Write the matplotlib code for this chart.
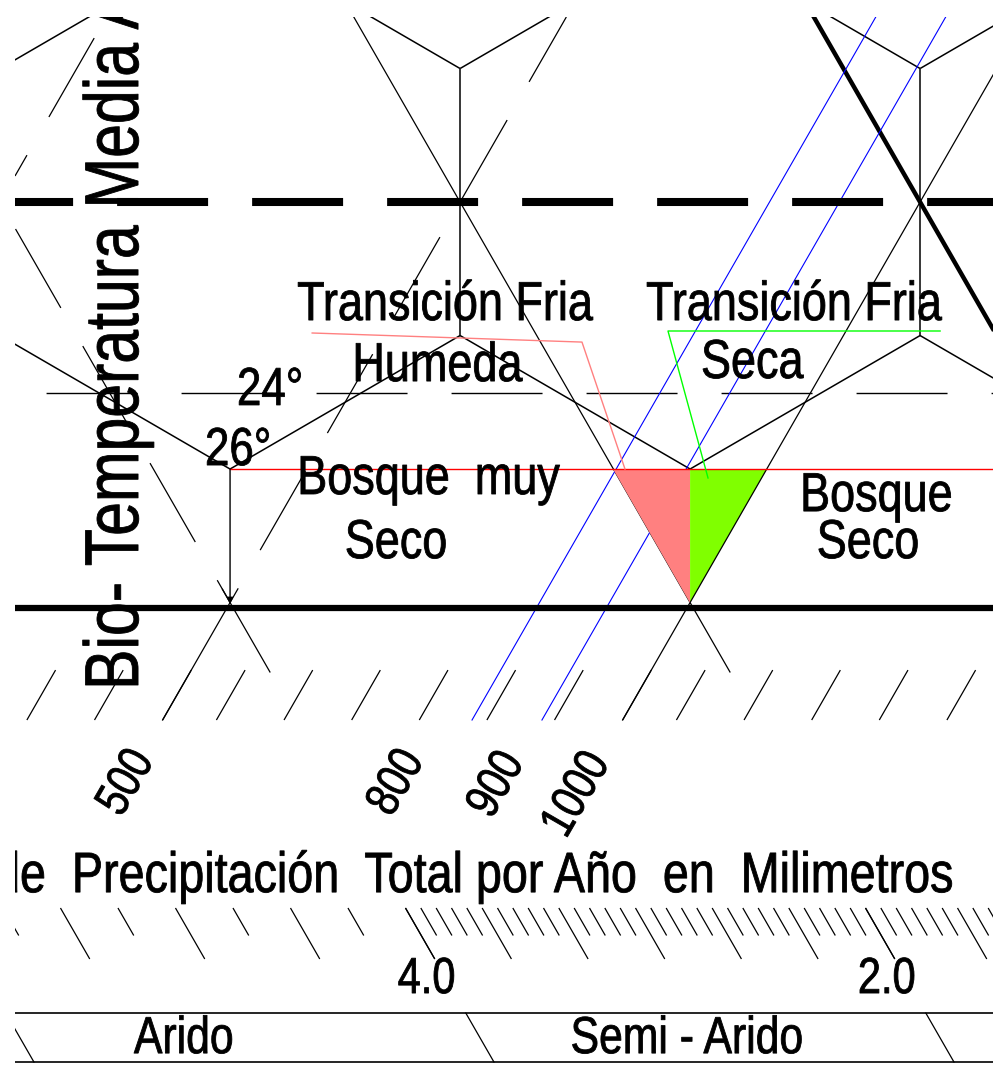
import numpy as np
import matplotlib
matplotlib.use("Agg")
import matplotlib.pyplot as plt
from matplotlib.collections import LineCollection
from matplotlib.patches import Polygon
from matplotlib.patheffects import AbstractPathEffect
from matplotlib.transforms import Affine2D

plt.rcParams['font.family'] = ['Liberation Sans', 'DejaVu Sans']
plt.rcParams['lines.scale_dashes'] = False

# Chart frame: u = half a hexagon width, v = half a hexagon side (v grows
# downward). Hexagon corners sit on integer (u, v) nodes, rain guides run
# along u + v/3 = c ("/") and PET-ratio guides along u - v/3 = d ("\").

hex_edges = [
    ((0, 1), (1, 0)), ((1, 0), (2, 1)), ((2, 1), (3, 0)), ((3, 0), (4, 1)),
    ((4, 1), (5, 0)), ((0, 1), (0, 3)), ((2, 1), (2, 3)), ((4, 1), (4, 3)),
    ((0, 3), (1, 4)), ((1, 4), (2, 3)), ((2, 3), (3, 4)), ((3, 4), (4, 3)),
    ((4, 3), (5, 4)),
]

critical_row = 2.0   # heavy dashed line
base_row = 5.04      # heavy solid line

site_temps = [24, 26]            # biotemperature, deg C
site_precip = [900, 1000]        # annual rain, mm
precip_labels = [500, 800, 900, 1000]

rain_guides_dashed = [2 / 3, 8 / 3]
rain_guide_solid = 14 / 3
rain_tick_steps = [0, 0.234, 0.528, 0.822, 1.116, 1.410, 1.704]

per_labels = [4.0, 2.0]
per_guide_dashed = 4.0
per_guide_solid = 2.0
per_guide_heavy = 1.0
# (from ratio, to ratio, major divisions, minor per major)
per_octaves = [(8.0, 4.0, 4, 2), (4.0, 2.0, 6, 5), (2.0, 1.0, 5, 6)]

province_names = ['Arido', 'Semi - Arido']
province_limits = [8.0, 4.0, 2.0]


def rain_c(p):
    return 4.012 + 2 * np.log2(p / 900)


def per_d(r):
    return -2 / 3 + 2 * np.log2(4.0 / r)


def temp_v(t):
    return 4.0 + (t - 26) * 0.285


def on_rain(c, v):
    return (c - v / 3, v)


def on_per(d, v):
    return (d + v / 3, v)


class Squeeze(AbstractPathEffect):
    """Draw glyphs narrower (and a touch heavier) than the font, like a
    condensed CAD text style."""

    def __init__(self, factor, about='center', weight=0.6):
        super().__init__()
        self.factor = factor
        self.about = about
        self.weight = weight

    def draw_path(self, renderer, gc, tpath, affine, rgbFace=None):
        ext = tpath.get_extents()
        x0 = {'left': 0.0, 'center': 0.5 * (ext.x0 + ext.x1),
              'right': ext.x1}[self.about]
        squeeze = Affine2D().translate(-x0, 0).scale(self.factor, 1).translate(x0, 0)
        gc0 = renderer.new_gc()
        gc0.copy_properties(gc)
        gc0.set_linewidth(self.weight)
        gc0.set_joinstyle('round')
        if rgbFace is not None:
            gc0.set_foreground(rgbFace)
        renderer.draw_path(gc0, tpath, squeeze + affine, rgbFace)
        gc0.restore()


SQUEEZE = 0.82
DASH = (65.5, 31.7)
VIEW_U = (0.065, 4.317)
VIEW_V = (0.614, 8.509)
V_TICK_TOP, V_TICK_BOT = 5.506, 5.88
V_BACK_END = 5.52
V_PER_TOP, V_PER_LONG, V_PER_SHORT = 7.288, 7.67, 7.494
V_BAND = (8.075, 8.442)

fig = plt.figure(figsize=(9.93, 10.71), dpi=100)
ax = fig.add_axes([15 / 993, 0, 978 / 993, 1054 / 1071])
ax.set_xlim(*VIEW_U)
ax.set_ylim(VIEW_V[1], VIEW_V[0])
ax.axis('off')


def into_view(p0, p1):
    """Trim a segment to the visible frame so dash phases start on screen."""
    (u0, v0), (u1, v1) = p0, p1
    t0, t1 = 0.0, 1.0
    for a, b, lo, hi in ((u0, u1, *VIEW_U), (v0, v1, *VIEW_V)):
        if b == a:
            continue
        ta, tb = (lo - a) / (b - a), (hi - a) / (b - a)
        t0, t1 = max(t0, min(ta, tb)), min(t1, max(ta, tb))
    return ((u0 + t0 * (u1 - u0), v0 + t0 * (v1 - v0)),
            (u0 + t1 * (u1 - u0), v0 + t1 * (v1 - v0)))


def dashed(p0, p1, start, **kw):
    p0, p1 = into_view(p0, p1)
    a, b, s = ax.transData.transform([p0, p1, start])
    direction = (b - a) / np.hypot(*(b - a))
    dist = np.dot(s - a, direction) * 72 / fig.dpi
    offset = (-dist) % sum(DASH)
    ax.plot([p0[0], p1[0]], [p0[1], p1[1]], ls=(offset, DASH),
            solid_capstyle='butt', dash_capstyle='butt', **kw)


def solid(p0, p1, **kw):
    ax.plot([p0[0], p1[0]], [p0[1], p1[1]], **kw)


def label(x, y, s, size, about='center', squeeze=SQUEEZE, **kw):
    opts = dict(fontsize=size, ha=about, va='baseline', zorder=6, color='black',
                clip_on=True, path_effects=[Squeeze(squeeze, about)])
    opts.update(kw)
    return ax.text(x, y, s, **opts)


v26 = temp_v(26)
v24 = temp_v(24)
d_dry = per_d(per_guide_solid)
c_wet = rain_guide_solid
apex = ((c_wet + d_dry) / 2, 3 * (c_wet - d_dry) / 2)

# site triangle, split at the apex column
green = [(apex[0], v26), on_rain(c_wet, v26), apex]
pink = [on_per(d_dry, v26), (apex[0], v26), apex]
ax.add_patch(Polygon(green, closed=True, fc='#80FF00', ec='none', zorder=1))
ax.add_patch(Polygon(pink, closed=True, fc='#FF8080', ec='none', zorder=3))

# hexagon outlines
ax.add_collection(LineCollection(hex_edges, colors='black', linewidths=1.1, zorder=2))

guide = dict(color='black', lw=0.9, zorder=2)

# rain guides "/": dashed above the base row, solid stubs below it
phase_rain = {2 / 3: 0.772, 8 / 3: 0.509}
for c in rain_guides_dashed:
    dashed(on_rain(c, 0), on_rain(c, apex[1]), on_rain(c, phase_rain[c]), **guide)
    solid(on_rain(c, apex[1]), on_rain(c, V_TICK_BOT), **guide)
solid(on_rain(c_wet, 0), on_rain(c_wet, V_TICK_BOT), **guide)

# PET-ratio guides "\"
d4 = per_d(per_guide_dashed)
dashed(on_per(d4, 0), on_per(d4, apex[1]), on_per(d4, 2.202), **guide)
solid(on_per(d4, apex[1] - 0.1), on_per(d4, V_BACK_END), **guide)
solid(on_per(d_dry, 0), on_per(d_dry, V_BACK_END), **guide)
d1 = per_d(per_guide_heavy)
solid(on_per(d1, 0), on_per(d1, 5), color='black', lw=3.2,
      solid_capstyle='butt', zorder=2)

# site rainfall lines
for p in site_precip:
    solid(on_rain(rain_c(p), 0), on_rain(rain_c(p), V_TICK_BOT),
          color='#0000FF', lw=0.8, zorder=2.5)

# horizontal rows
u_lo, u_hi = -0.2, 4.6
dashed((u_lo, critical_row), (u_hi, critical_row), (0.509, critical_row),
       color='black', lw=5.8, zorder=4)
dashed((u_lo, v24), (u_hi, v24), (0.787, v24), color='black', lw=1.0, zorder=2)
solid((1, v26), (u_hi, v26), color='#FF0000', lw=1.0, zorder=4)
solid((u_lo, base_row), (u_hi, base_row), color='black', lw=4.5, zorder=4)

# arrow from the 26 deg corner down to the base row
ax.annotate('', xy=(1, base_row - 0.03), xytext=(1, v26),
            arrowprops=dict(arrowstyle='-|>', color='black', lw=1.0,
                            mutation_scale=9, shrinkA=0, shrinkB=0), zorder=4)

# leaders from the transition labels to the site triangle
ax.plot([1.357, 2.530, 2.717], [2.981, 3.049, v26], color='#FF8080', lw=1.0, zorder=4)
ax.plot([4.087, 2.904, 3.078], [2.966, 2.966, 4.067], color='#00FF00', lw=1.0, zorder=4)

# rain ticks "/"
rain_ticks = []
for base in [2 / 3 - 2] + rain_guides_dashed + [c_wet]:
    for step in rain_tick_steps:
        c = base + step
        rain_ticks.append([on_rain(c, V_TICK_TOP), on_rain(c, V_TICK_BOT)])
ax.add_collection(LineCollection(rain_ticks, colors='black', linewidths=0.9, zorder=2))

# PET-ratio ticks "\"
per_ticks = []
for hi, lo, n_major, n_minor in per_octaves:
    ds = np.linspace(per_d(hi), per_d(lo), n_major * n_minor + 1)
    for i, d in enumerate(ds):
        end = V_PER_LONG if i % n_minor == 0 else V_PER_SHORT
        per_ticks.append([on_per(d, V_PER_TOP), on_per(d, end)])
ax.add_collection(LineCollection(per_ticks, colors='black', linewidths=0.9, zorder=2))

# humidity province band
for vb in V_BAND:
    solid((u_lo, vb), (u_hi, vb), color='black', lw=1.2, zorder=2)
for r in province_limits:
    solid(on_per(per_d(r), V_BAND[0]), on_per(per_d(r), V_BAND[1]),
          color='black', lw=0.9, zorder=2)

# ---- text ----
ZONE = 39.5
label(1.935, 2.884, 'Transición Fria', ZONE)
label(1.900, 3.341, 'Humeda', ZONE)
label(3.452, 2.884, 'Transición Fria', ZONE)
label(3.270, 3.318, 'Seca', ZONE)
label(1.861, 4.187, 'Bosque  muy', ZONE)
label(1.722, 4.667, 'Seco', ZONE)
label(3.809, 4.315, 'Bosque', ZONE)
label(3.774, 4.667, 'Seco', ZONE)

temp_layout = {24: (1.030, 3.52), 26: (0.891, 3.97)}
for t in site_temps:
    x, y = temp_layout[t]
    label(x, y, f'{t}°', 38.5, about='left')

label(0.600, 5.655, 'Bio- Temperatura Media Anual', 55, about='left',
      squeeze=0.795, rotation=90, rotation_mode='anchor')
label(2.061, 7.169, 'de  Precipitación  Total por Año  en  Milimetros', 41)

rain_layout = {500: (0.552, 6.352), 800: (1.726, 6.352),
               900: (2.161, 6.367), 1000: (2.509, 6.442)}
for p in precip_labels:
    x, y = rain_layout[p]
    label(x, y, f'{p}', 35, va='center', rotation=60, rotation_mode='anchor')

for r in per_labels:
    x, _ = on_per(per_d(r), V_PER_LONG)
    label(x - 0.035, 7.925, f'{r:.1f}', 36.5)

province_layout = [0.80, 2.987]
for name, x in zip(province_names, province_layout):
    label(x, 8.375, name, 37.5)

fig.savefig('out.png', dpi=100)
